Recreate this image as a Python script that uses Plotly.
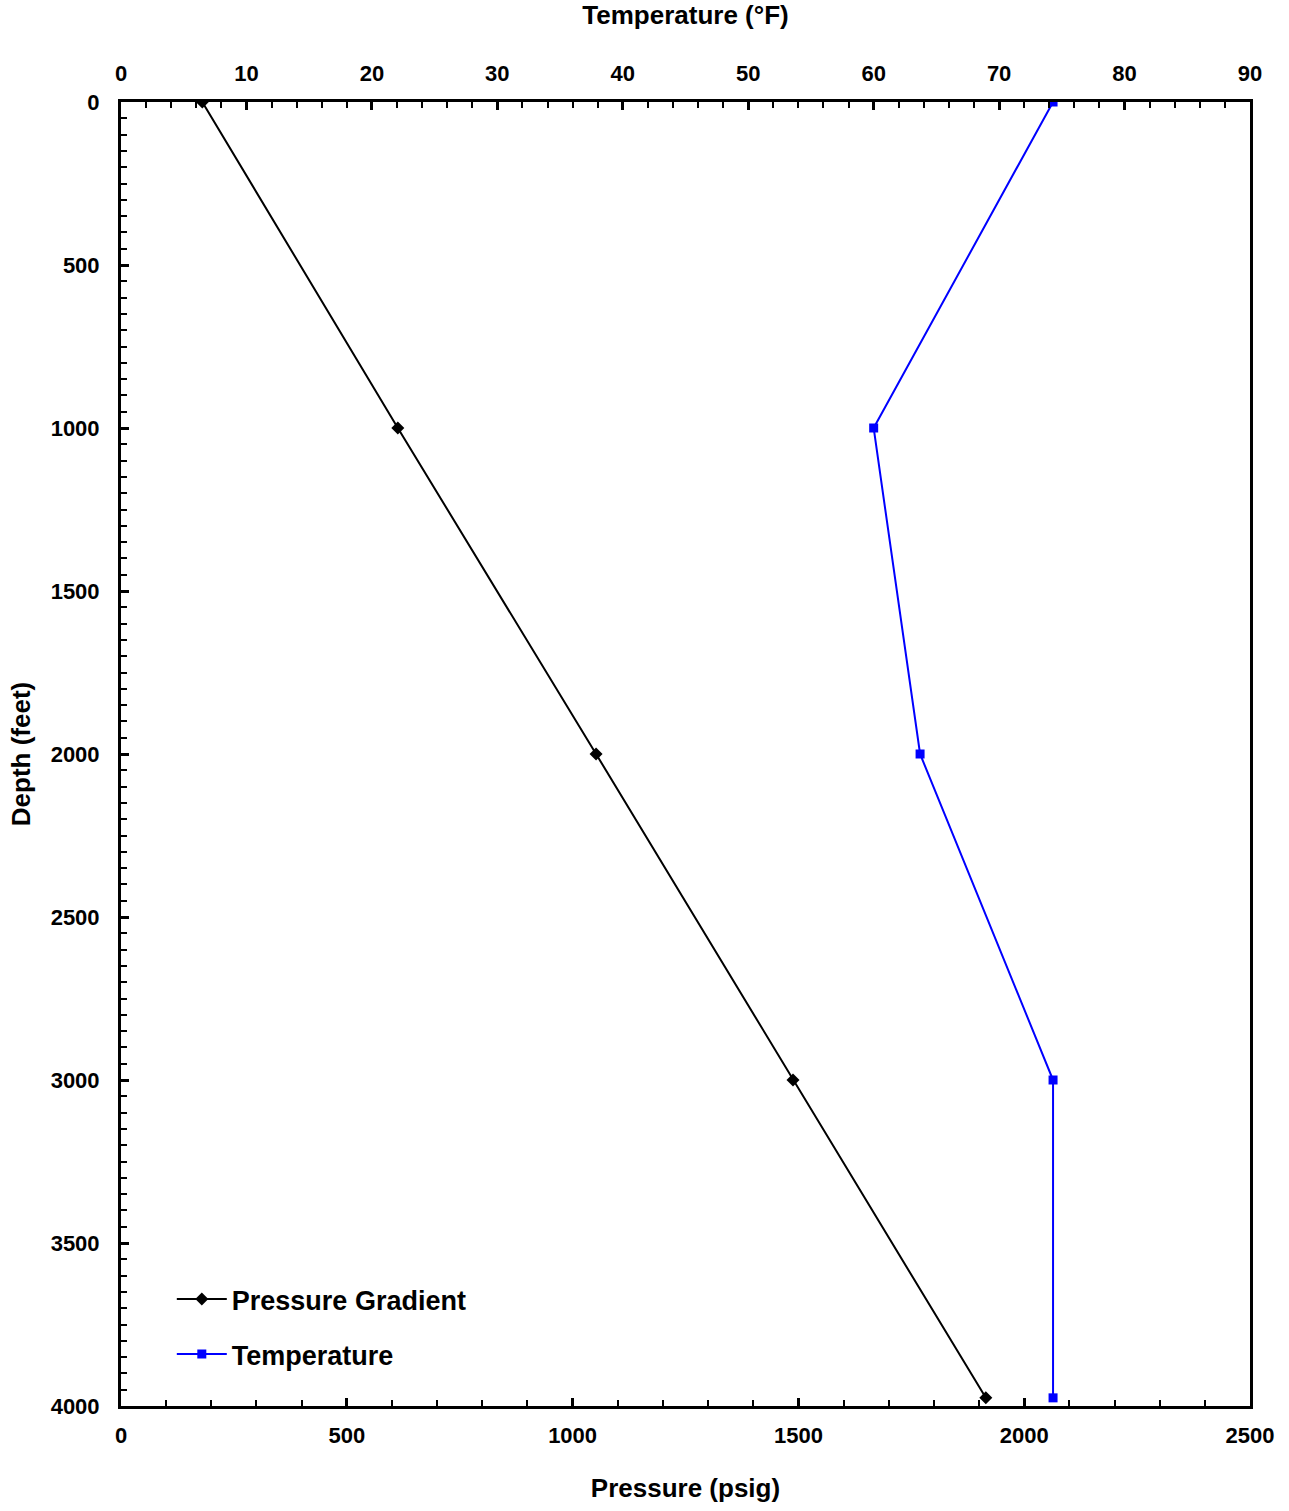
import plotly.graph_objects as go

depth = [0, 1000, 2000, 3000, 3975]
pressure = [180, 613, 1052, 1488, 1915]
temperature = [74.3, 60.0, 63.7, 74.3, 74.3]

FONT = "Liberation Sans"
fig = go.Figure()
fig.add_trace(go.Scatter(
    x=pressure, y=depth, mode="lines+markers", name="Pressure Gradient",
    line=dict(color="black", width=2), marker=dict(symbol="diamond", size=10, color="black"),
    xaxis="x", yaxis="y", legendgroup="a"))
fig.add_trace(go.Scatter(
    x=temperature, y=depth, mode="lines+markers", name="Temperature",
    line=dict(color="#0000FF", width=2), marker=dict(symbol="square", size=9, color="#0000FF"),
    xaxis="x2", yaxis="y", legendgroup="b"))

tickfont = dict(family=FONT, size=22, color="black", weight="bold")
titlefont = dict(family=FONT, size=26, color="black", weight="bold")
fig.update_layout(
    width=1289, height=1511,
    margin=dict(l=121, r=39, t=102, b=103),
    plot_bgcolor="white", paper_bgcolor="white",
    showlegend=True,
    legend=dict(x=0.045, y=0.1005, xanchor="left", yanchor="top", bgcolor="rgba(0,0,0,0)",
                font=dict(family=FONT, size=27, color="black", weight="bold"), tracegroupgap=17,
                traceorder="grouped", itemwidth=50),
    xaxis=dict(range=[0, 2500], tickvals=list(range(0, 2501, 500)),
               ticks="inside", ticklen=8, tickwidth=3, tickcolor="black",
               minor=dict(ticks="inside", dtick=100, ticklen=6, tickwidth=2, tickcolor="black"),
               showline=True, linewidth=3, linecolor="black", showgrid=False, zeroline=False,
               tickfont=tickfont, ticklabelstandoff=8,
               title=dict(text="Pressure (psig)", font=titlefont, standoff=32)),
    xaxis2=dict(range=[0, 90], tickvals=list(range(0, 91, 10)), overlaying="x", side="top",
                ticks="inside", ticklen=8, tickwidth=3, tickcolor="black",
                minor=dict(ticks="inside", dtick=2, ticklen=6, tickwidth=2, tickcolor="black"),
                showline=True, linewidth=3, linecolor="black", showgrid=False, zeroline=False,
                tickfont=tickfont, ticklabelstandoff=9,
                title=dict(text="Temperature (°F)", font=titlefont, standoff=30)),
    yaxis=dict(range=[4000, 0], tickvals=list(range(0, 4001, 500)),
               ticks="inside", ticklen=8, tickwidth=3, tickcolor="black",
               minor=dict(ticks="inside", dtick=50, ticklen=6, tickwidth=2, tickcolor="black"),
               showline=True, linewidth=3, linecolor="black", mirror=True,
               showgrid=False, zeroline=False,
               tickfont=tickfont, ticklabelstandoff=14,
               title=dict(text="Depth (feet)", font=titlefont, standoff=13)),
)
fig.write_html("out.html")
